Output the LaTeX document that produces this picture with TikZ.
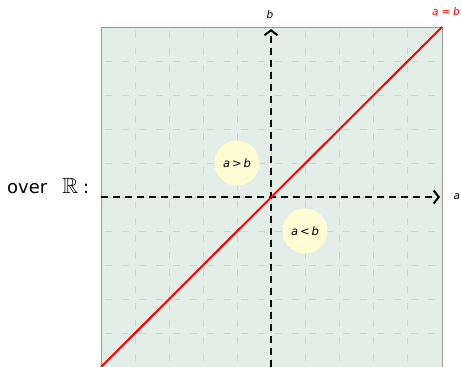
\documentclass[tikz,border=0pt]{standalone}
\usepackage{amssymb}
\usepackage{fontspec}
\setmainfont{DejaVu Sans}
\newfontfamily\ital{DejaVu Sans Oblique}
\usetikzlibrary{arrows.meta}
\definecolor{bgfill}{HTML}{E3EEE8}
\definecolor{gridc}{HTML}{CDD6D0}
\definecolor{bubble}{HTML}{FFFBD2}
\tikzset{
  gridline/.style={gridc, line width=0.9pt, dash pattern=on 7pt off 10pt, dash phase=-4pt},
  axisline/.style={black, line width=2.2pt, dash pattern=on 7pt off 5pt, -{Straight Barb[length=5pt,width=13pt,line width=2pt]}},
  bubblenode/.style={circle, fill=bubble, minimum size=45pt, inner sep=0pt, font=\fontsize{11.5}{13}\selectfont},
  smalllabel/.style={font=\fontsize{10.5}{12}\selectfont\ital},
}
\begin{document}
\begin{tikzpicture}[x=1pt,y=-1pt]
\useasboundingbox (0,0) rectangle (461,367);
\coordinate (bl) at (101,367);
\coordinate (tr) at (442,27);
\fill[bgfill] (bl) rectangle (tr);
\foreach \k in {1,...,9}{
  \draw[gridline] ({101+34.1*\k},27) -- ({101+34.1*\k},367);
  \draw[gridline] (101,{27+34*\k}) -- (442,{27+34*\k});
}
\draw[gray!80, line width=1pt] (bl) -- (101,27) -- (tr) -- (442,367);
\coordinate (ybot) at (271,367);
\coordinate (ytop) at (271,29);
\coordinate (xl) at (101,197);
\coordinate (xr) at (440,197);
\draw[axisline] (ybot) -- (ytop);
\draw[axisline] (xl) -- (xr);
\draw[red, line width=2pt] (bl) -- (tr);
\node[bubblenode] (gt) at (237,163) {\ital a\,>\,b};
\node[bubblenode] (lt) at (305,231) {\ital a\,<\,b};
\node[smalllabel] (lb) at (270,15) {b};
\node[smalllabel, anchor=west] (la) at (450,197) {a};
\node[smalllabel, red, anchor=east, inner sep=1pt] (lab) at (461,12) {a\;=\;b};
\node[font=\fontsize{18}{20}\selectfont, anchor=west, inner sep=0pt] (over) at (7,186) {over\hspace{15pt}{\fontsize{22}{24}\selectfont$\mathbb{R}$}\hspace{5pt}:};
\end{tikzpicture}
\end{document}
